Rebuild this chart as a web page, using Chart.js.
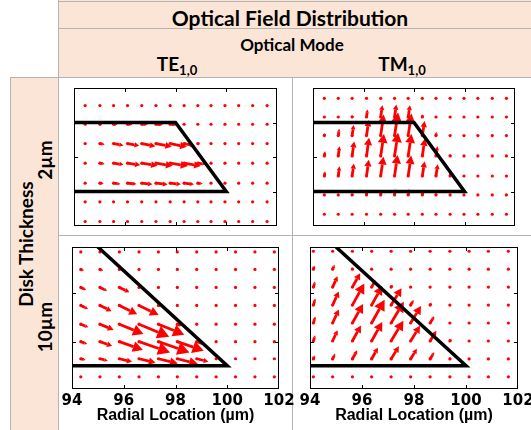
<!DOCTYPE html>
<html>
<head>
<meta charset="utf-8">
<script src="https://cdn.jsdelivr.net/npm/chart.js@4.4.0/dist/chart.umd.min.js"></script>
<style>
  body { margin: 0; background: #fff; }
  #page { position: relative; width: 531px; height: 430px; overflow: hidden; font-family: Lato, "Open Sans", sans-serif; font-weight: bold; color: #000; }
  .peach { position: absolute; background: #fbe5d6; }
  .hline { position: absolute; height: 1px; background: #b4b4b4; }
  .vline { position: absolute; width: 1px; background: #b4b4b4; }
  .lbl { position: absolute; white-space: nowrap; line-height: 1; }
  .ctr { transform: translateX(-50%); }
  .rot { transform: translate(-50%, -50%) rotate(-90deg); }
  .lbl sub { font-size: 13px; vertical-align: -4px; }
  canvas { position: absolute; }
</style>
</head>
<body>
<div id="page">
  <div class="peach" style="left:58px;top:0;width:473px;height:78px"></div>
  <div class="peach" style="left:10px;top:78px;width:48px;height:352px"></div>

  <div class="hline" style="left:58px;top:1px;width:473px"></div>
  <div class="hline" style="left:58px;top:28px;width:473px"></div>
  <div class="hline" style="left:10px;top:77px;width:521px"></div>
  <div class="hline" style="left:58px;top:235px;width:473px"></div>
  <div class="vline" style="left:58px;top:0;height:430px"></div>
  <div class="vline" style="left:10px;top:77px;height:353px"></div>
  <div class="vline" style="left:292px;top:77px;height:353px"></div>

  <div class="lbl ctr" style="left:290px;top:7px;font-size:21px">Optical Field Distribution</div>
  <div class="lbl ctr" style="left:292px;top:36px;font-size:17px">Optical Mode</div>
  <div class="lbl ctr" style="left:177px;top:54px;font-size:19px">TE<sub>1,0</sub></div>
  <div class="lbl ctr" style="left:402px;top:54px;font-size:19px">TM<sub>1,0</sub></div>

  <div class="lbl rot" style="left:25px;top:244px;font-size:19px">Disk Thickness</div>
  <div class="lbl rot" style="left:44px;top:160px;font-size:19px">2µm</div>
  <div class="lbl rot" style="left:44px;top:327px;font-size:19px">10µm</div>

  <canvas id="te2" width="211" height="146" style="left:70px;top:84px"></canvas>
  <canvas id="tm2" width="210" height="146" style="left:309px;top:84px"></canvas>
  <canvas id="te10" width="250" height="187" style="left:50px;top:243px"></canvas>
  <canvas id="tm10" width="262" height="187" style="left:288px;top:243px"></canvas>
</div>

<script>
// axes
const xTickVals = [94, 96, 98, 100, 102];
const thinYTicks = [0, 1, 2];
const thickYTicks = [2.5, 7.5];
const thinYRange = [-1, 3];
const thickYRange = [-2.4, 12.3];

// disk cross-sections (µm)
const thinDiskX = [94, 98, 100, 94];
const thinDiskY = [2, 2, 0, 0];
const thickDiskX = [95, 100, 94];
const thickDiskY = [12.3, 0, 0];

// TE 1,0 - 2 µm disk (rows bottom -> top)
const te2Cols = [94.44, 95.02, 95.56, 96.11, 96.67, 97.23, 97.79, 98.34, 98.88, 99.40, 99.95, 100.49, 101.04, 101.61];
const te2Rows = [-0.87, -0.30, 0.24, 0.82, 1.39, 1.95, 2.49];
const te2U = [
  [0, 0, 0, 0, 0, 0, 0, 0, 0, 0, 0, 0, 0, 0],
  [0, 0, 0, 0, 0, 0, 0, 0, 0, 0, 0, 0, 0, 0],
  [0.02, 0.15, 0.27, 0.35, 0.42, 0.46, 0.42, 0.39, 0.19, 0.04, 0, 0, 0, 0],
  [0.04, 0.19, 0.39, 0.50, 0.62, 0.66, 0.70, 0.66, 0.30, 0, 0, 0, 0, 0],
  [0.04, 0.19, 0.39, 0.46, 0.54, 0.62, 0.66, 0.42, 0.10, 0, 0, 0, 0, 0],
  [0.03, 0.08, 0.15, 0.19, 0.23, 0.27, 0.27, 0.04, 0, 0, 0, 0, 0, 0],
  [0, 0, 0, 0, 0, 0, 0, 0, 0, 0, 0, 0, 0, 0]
];
const te2V = [
  [0, 0, 0, 0, 0, 0, 0, 0, 0, 0, 0, 0, 0, 0],
  [0, 0, 0, 0, 0, 0, 0, 0, 0, 0, 0, 0, 0, 0],
  [0, -0.01, -0.02, -0.025, -0.03, -0.035, -0.03, -0.03, -0.015, 0, 0, 0, 0, 0],
  [0, -0.02, -0.04, -0.055, -0.07, -0.075, -0.08, -0.08, -0.03, 0, 0, 0, 0, 0],
  [0, -0.03, -0.055, -0.065, -0.08, -0.09, -0.095, -0.065, -0.015, 0, 0, 0, 0, 0],
  [0, 0, -0.01, -0.01, -0.01, -0.015, -0.015, 0, 0, 0, 0, 0, 0, 0],
  [0, 0, 0, 0, 0, 0, 0, 0, 0, 0, 0, 0, 0, 0]
];

// TM 1,0 - 2 µm disk
const tm2Cols = [94.45, 95.00, 95.55, 96.12, 96.68, 97.23, 97.77, 98.33, 98.87, 99.43, 99.98, 100.53, 101.10, 101.66];
const tm2Rows = [-0.66, -0.10, 0.45, 1.03, 1.62, 2.16, 2.70];
const tm2U = [
  [0, 0, 0, 0, 0, 0, 0, 0, 0, 0, 0, 0, 0, 0],
  [0, 0.005, 0.01, 0.02, 0.025, 0.03, 0.03, 0.02, 0.01, 0, 0, 0, 0, 0],
  [0.03, 0.05, 0.07, 0.09, 0.11, 0.12, 0.12, 0.09, 0.07, 0.03, 0, 0, 0, 0],
  [0.03, 0.05, 0.08, 0.10, 0.13, 0.14, 0.13, 0.10, 0.06, 0.01, 0, 0, 0, 0],
  [0.02, 0.04, 0.06, 0.09, 0.12, 0.14, 0.13, 0.09, 0.02, 0, 0, 0, 0, 0],
  [0, 0.005, 0.01, 0.04, 0.07, 0.07, 0.07, 0.02, 0, 0, 0, 0, 0, 0],
  [0, 0, 0, 0, 0, 0, 0, 0, 0, 0, 0, 0, 0, 0]
];
const tm2V = [
  [0, 0, 0, 0, 0, 0, 0, 0, 0, 0, 0, 0, 0, 0],
  [0, 0.03, 0.06, 0.11, 0.14, 0.17, 0.17, 0.11, 0.06, 0, 0, 0, 0, 0],
  [0.14, 0.28, 0.36, 0.47, 0.56, 0.61, 0.59, 0.42, 0.34, 0.14, 0, 0, 0, 0],
  [0.14, 0.28, 0.42, 0.53, 0.64, 0.67, 0.64, 0.50, 0.28, 0.06, 0, 0, 0, 0],
  [0.08, 0.20, 0.31, 0.45, 0.61, 0.67, 0.64, 0.42, 0.11, 0, 0, 0, 0, 0],
  [0, 0.03, 0.06, 0.22, 0.34, 0.36, 0.34, 0.08, 0, 0, 0, 0, 0, 0],
  [0, 0, 0, 0, 0, 0, 0, 0, 0, 0, 0, 0, 0, 0]
];

// TE 1,0 - 10 µm disk
const te10Cols = [94.34, 95.08, 95.83, 96.59, 97.34, 98.07, 98.82, 99.57, 100.32, 101.07, 101.82];
const te10Rows = [-1.14, 0.73, 2.50, 4.31, 6.25, 8.11, 9.98, 11.79];
const te10U = [
  [0, 0, 0, 0, 0, 0, 0, 0, 0, 0, 0],
  [0.19, 0.30, 0.49, 0.64, 0.75, 0.79, 0.45, 0.06, 0, 0, 0],
  [0.25, 0.47, 0.91, 1.20, 1.20, 1.02, 0.29, 0, 0, 0, 0],
  [0.29, 0.53, 0.93, 1.17, 1.00, 0.18, 0, 0, 0, 0, 0],
  [0.28, 0.45, 0.69, 0.76, 0.10, 0, 0, 0, 0, 0, 0],
  [0.21, 0.28, 0.39, 0.05, 0, 0, 0, 0, 0, 0, 0],
  [0.12, 0.12, 0.02, 0, 0, 0, 0, 0, 0, 0, 0],
  [0, 0, 0, 0, 0, 0, 0, 0, 0, 0, 0]
];
const te10V = [
  [0, 0, 0, 0, 0, 0, 0, 0, 0, 0, 0],
  [-0.12, -0.20, -0.32, -0.42, -0.50, -0.52, -0.30, -0.04, 0, 0, 0],
  [-0.24, -0.44, -0.85, -1.11, -1.11, -0.95, -0.27, 0, 0, 0, 0],
  [-0.32, -0.59, -1.02, -1.31, -1.10, -0.20, 0, 0, 0, 0, 0],
  [-0.37, -0.59, -0.91, -1.00, -0.10, 0, 0, 0, 0, 0, 0],
  [-0.26, -0.35, -0.49, -0.05, 0, 0, 0, 0, 0, 0, 0],
  [-0.15, -0.15, -0.02, 0, 0, 0, 0, 0, 0, 0, 0],
  [0, 0, 0, 0, 0, 0, 0, 0, 0, 0, 0]
];

// TM 1,0 - 10 µm disk
const tm10Cols = [94.13, 94.87, 95.63, 96.37, 97.12, 97.87, 98.62, 99.38, 100.12, 100.86, 101.63];
const tm10Rows = [-1.14, 0.71, 2.57, 4.43, 6.29, 8.15, 10.00, 11.86];
const tm10U = [
  [0, 0, 0, 0, 0, 0, 0, 0, 0, 0, 0],
  [0.044, 0.095, 0.185, 0.24, 0.30, 0.24, 0.16, 0.04, 0, 0, 0],
  [0.066, 0.19, 0.33, 0.41, 0.47, 0.36, 0.24, 0.06, 0, 0, 0],
  [0.077, 0.24, 0.41, 0.50, 0.49, 0.40, 0.16, 0.02, 0, 0, 0],
  [0.077, 0.24, 0.46, 0.41, 0.40, 0.12, 0.06, 0, 0, 0, 0],
  [0.066, 0.19, 0.30, 0.15, 0.06, 0, 0, 0, 0, 0, 0],
  [0.044, 0.08, 0.03, 0.02, 0, 0, 0, 0, 0, 0, 0],
  [0, 0, 0, 0, 0, 0, 0, 0, 0, 0, 0]
];
const tm10V = [
  [0, 0, 0, 0, 0, 0, 0, 0, 0, 0, 0],
  [0.39, 0.56, 0.89, 1.16, 1.31, 1.05, 0.70, 0.17, 0, 0, 0],
  [0.59, 1.12, 1.61, 1.97, 2.10, 1.57, 1.05, 0.26, 0, 0, 0],
  [0.68, 1.40, 1.97, 2.42, 2.19, 1.75, 0.70, 0.10, 0, 0, 0],
  [0.68, 1.40, 2.23, 1.97, 1.75, 0.52, 0.26, 0, 0, 0, 0],
  [0.59, 1.12, 1.43, 0.71, 0.26, 0, 0, 0, 0, 0, 0],
  [0.39, 0.47, 0.18, 0.08, 0, 0, 0, 0, 0, 0, 0],
  [0, 0, 0, 0, 0, 0, 0, 0, 0, 0, 0]
];

function gridPoints(cols, rows, U, V) {
  const pts = [];
  rows.forEach((y, r) => cols.forEach((x, c) => pts.push({ x, y, u: U[r][c], v: V[r][c] })));
  return pts;
}

// box + inward ticks, like a matlab axes
const framePlugin = {
  id: 'frame',
  afterDraw(chart, args, opts) {
    const { ctx, chartArea: a, scales: { x, y } } = chart;
    ctx.save();
    ctx.strokeStyle = '#000';
    ctx.lineWidth = 1;
    ctx.strokeRect(a.left + 0.5, a.top + 0.5, a.width - 1, a.height - 1);
    ctx.beginPath();
    opts.xTicks.forEach(v => {
      if (v <= x.min || v >= x.max) return;
      const px = Math.round(x.getPixelForValue(v)) + 0.5;
      ctx.moveTo(px, a.top); ctx.lineTo(px, a.top + 4);
      ctx.moveTo(px, a.bottom); ctx.lineTo(px, a.bottom - 4);
    });
    opts.yTicks.forEach(v => {
      if (v <= y.min || v >= y.max) return;
      const py = Math.round(y.getPixelForValue(v)) + 0.5;
      ctx.moveTo(a.left, py); ctx.lineTo(a.left + 4, py);
      ctx.moveTo(a.right, py); ctx.lineTo(a.right - 4, py);
    });
    ctx.stroke();
    ctx.restore();
  }
};

// quiver arrows drawn right after the dot dataset, so the disk outline stays on top
const quiverPlugin = {
  id: 'quiver',
  afterDatasetDraw(chart, args) {
    const ds = chart.data.datasets[args.index];
    if (!ds.vectors) return;
    const { ctx, chartArea: a, scales: { x, y } } = chart;
    ctx.save();
    ctx.beginPath();
    ctx.rect(a.left, a.top, a.width, a.height);
    ctx.clip();
    ctx.strokeStyle = ds.borderColor;
    ctx.fillStyle = ds.borderColor;
    ctx.lineWidth = 2.8;
    ds.data.forEach(p => {
      const x0 = x.getPixelForValue(p.x), y0 = y.getPixelForValue(p.y);
      const x1 = x.getPixelForValue(p.x + p.u), y1 = y.getPixelForValue(p.y + p.v);
      const dx = x1 - x0, dy = y1 - y0, len = Math.hypot(dx, dy);
      if (len < 1.5) return;
      const ux = dx / len, uy = dy / len;
      const head = Math.min(len * 0.4, 12);
      const hw = head * 0.55;
      const bx = x1 - ux * head, by = y1 - uy * head;
      ctx.beginPath();
      ctx.moveTo(x0, y0);
      ctx.lineTo(bx, by);
      ctx.stroke();
      ctx.beginPath();
      ctx.moveTo(x1, y1);
      ctx.lineTo(bx - uy * hw, by + ux * hw);
      ctx.lineTo(bx + uy * hw, by - ux * hw);
      ctx.closePath();
      ctx.fill();
    });
    ctx.restore();
  }
};

function makePanel(id, p) {
  const outline = p.diskX.map((v, i) => ({ x: v, y: p.diskY[i] }));
  new Chart(document.getElementById(id), {
    type: 'scatter',
    data: {
      datasets: [
        {
          type: 'line',
          data: outline,
          borderColor: '#000',
          borderWidth: 3.5,
          pointRadius: 0,
          fill: false,
          tension: 0,
          clip: 0
        },
        {
          data: gridPoints(p.cols, p.rows, p.U, p.V),
          vectors: true,
          borderColor: '#ff0000',
          backgroundColor: '#ff0000',
          pointRadius: 1.6,
          pointBorderWidth: 0
        }
      ]
    },
    options: {
      responsive: false,
      animation: false,
      devicePixelRatio: 1,
      events: [],
      layout: { padding: p.padding },
      plugins: {
        legend: { display: false },
        tooltip: { enabled: false },
        frame: { xTicks: xTickVals, yTicks: p.yTicks }
      },
      scales: {
        x: {
          type: 'linear',
          min: 94,
          max: 102,
          display: p.showX,
          afterBuildTicks: s => { s.ticks = xTickVals.map(v => ({ value: v })); },
          grid: { display: false, drawTicks: false },
          border: { display: false },
          ticks: {
            autoSkip: false,
            maxRotation: 0,
            padding: 4.5,
            color: '#000',
            font: { family: 'DejaVu Sans', weight: 'bold', size: 15, lineHeight: 1 }
          },
          title: {
            display: true,
            text: 'Radial Location (µm)',
            color: '#000',
            padding: 0,
            font: { family: 'Liberation Sans', weight: 'bold', size: 16, lineHeight: 0.375 }
          }
        },
        y: { type: 'linear', min: p.yRange[0], max: p.yRange[1], display: false }
      }
    },
    plugins: [framePlugin, quiverPlugin]
  });
}

const thinPad = { left: 2, right: 2, top: 2, bottom: 2 };

makePanel('te2', { cols: te2Cols, rows: te2Rows, U: te2U, V: te2V, diskX: thinDiskX, diskY: thinDiskY,
  yRange: thinYRange, yTicks: thinYTicks, showX: false, padding: thinPad });
makePanel('tm2', { cols: tm2Cols, rows: tm2Rows, U: tm2U, V: tm2V, diskX: thinDiskX, diskY: thinDiskY,
  yRange: thinYRange, yTicks: thinYTicks, showX: false, padding: thinPad });
makePanel('te10', { cols: te10Cols, rows: te10Rows, U: te10U, V: te10V, diskX: thickDiskX, diskY: thickDiskY,
  yRange: thickYRange, yTicks: thickYTicks, showX: true, padding: { left: 22, right: 21, top: 2, bottom: 11 } });
makePanel('tm10', { cols: tm10Cols, rows: tm10Rows, U: tm10U, V: tm10V, diskX: thickDiskX, diskY: thickDiskY,
  yRange: thickYRange, yTicks: thickYTicks, showX: true, padding: { left: 22, right: 32, top: 2, bottom: 11 } });
</script>
</body>
</html>
